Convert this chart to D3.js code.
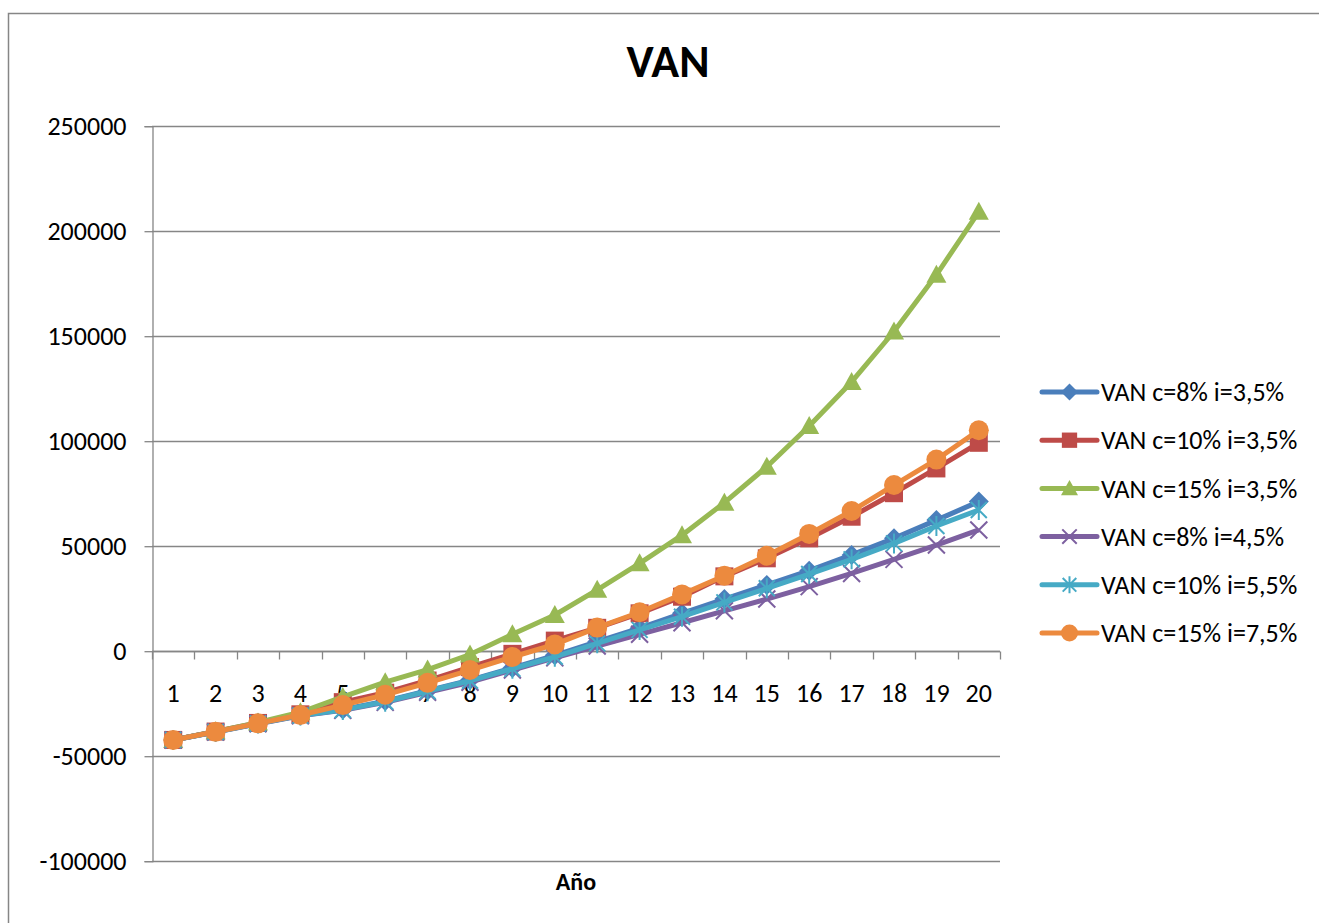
<!DOCTYPE html>
<html>
<head>
<meta charset="utf-8">
<script src="https://d3js.org/d3.v7.min.js"></script>
<style>
  html, body { margin: 0; padding: 0; background: #fff; }
  svg { display: block; }
  text { font-family: Carlito, Calibri, Lato, sans-serif; fill: #000; }
</style>
</head>
<body>
<svg id="chart" width="1319" height="923"></svg>
<script>
const title = "VAN";
const xAxisTitle = "Año";
const years = ["1","2","3","4","5","6","7","8","9","10","11","12","13","14","15","16","17","18","19","20"];
const yTicks = [-100000, -50000, 0, 50000, 100000, 150000, 200000, 250000];
const seriesNames = ["VAN c=8% i=3,5%","VAN c=10% i=3,5%","VAN c=15% i=3,5%","VAN c=8% i=4,5%","VAN c=10% i=5,5%","VAN c=15% i=7,5%"];
const vanC8i35  = [-42500,-38600,-34600,-30800,-28000,-24000,-19000,-14000,-8200,-2200,4300,10700,17800,24600,31300,38100,45600,53500,62200,71000];
const vanC10i35 = [-42500,-38500,-34400,-30300,-24500,-20000,-14200,-7800,-1500,4800,10900,17800,25700,35400,44000,53500,63800,75000,86800,99000];
const vanC15i35 = [-42500,-38400,-34200,-29300,-22000,-15000,-9000,-1800,7800,17000,29000,41600,55000,70500,87600,107000,128000,152000,179000,209000];
const vanC8i45  = [-42500,-38700,-34800,-31000,-28400,-24600,-19800,-15000,-9200,-3400,2200,7800,13300,19000,24600,30500,36800,43500,50300,57500];
const vanC10i55 = [-42500,-38700,-34700,-30900,-28200,-24300,-19300,-14300,-8600,-2900,3500,9900,16200,23000,29700,36500,43500,51100,59400,67000];
const vanC15i75 = [-42500,-38600,-34600,-30600,-25900,-21000,-15300,-9200,-3000,3000,11000,18300,26800,35700,45200,55600,66500,78900,91000,105000];

const seriesValues = [vanC8i35, vanC10i35, vanC15i35, vanC8i45, vanC10i55, vanC15i75];
const colors = ["#4a7ebb", "#be4b48", "#98b954", "#7d60a0", "#46aac5", "#ec8a3e"];
const markerKinds = ["diamond", "square", "triangle", "x", "star", "circle"];

const FS = 26;
const svg = d3.select("#chart");

// outer chart border
svg.append("rect").attr("x", 8.5).attr("y", 13.5).attr("width", 1330).attr("height", 930)
  .attr("fill", "#fff").attr("stroke", "#868686").attr("stroke-width", 1.5);

const plot = { left: 152, right: 1000, top: 125.7, bottom: 860.7 };
const x = d3.scaleBand().domain(years).range([plot.left, plot.right]);
const y = d3.scaleLinear().domain([-100000, 250000]).range([plot.bottom, plot.top]);

// gridlines
svg.append("g").selectAll("line").data(yTicks).join("line")
  .attr("x1", plot.left).attr("x2", plot.right)
  .attr("y1", d => Math.round(y(d)) + 0.5).attr("y2", d => Math.round(y(d)) + 0.5)
  .attr("stroke", "#868686").attr("stroke-width", 1.3);

// y axis
const yAxis = d3.axisLeft(y).tickValues(yTicks).tickSize(8).tickPadding(18).tickFormat(d => String(d));
const yg = svg.append("g").attr("transform", `translate(${plot.left + 0.5},0.5)`).call(yAxis);
yg.select(".domain").attr("stroke", "#868686").attr("stroke-width", 1.3);
yg.selectAll(".tick line").attr("stroke", "#868686").attr("stroke-width", 1.3);
yg.selectAll(".tick text").attr("font-size", FS).attr("font-family", "Carlito, Calibri, Lato, sans-serif").attr("fill", "#000");

// x axis at zero
const y0 = Math.round(y(0)) + 0.5;
const xg = svg.append("g");
xg.append("line").attr("x1", plot.left).attr("x2", plot.right).attr("y1", y0).attr("y2", y0)
  .attr("stroke", "#868686").attr("stroke-width", 1.3);
const boundaries = years.map(d => x(d)).concat([plot.right]);
xg.selectAll("line.tick").data(boundaries).join("line").attr("class", "tick")
  .attr("x1", d => Math.round(d) + 0.5).attr("x2", d => Math.round(d) + 0.5)
  .attr("y1", y0).attr("y2", y0 + 8).attr("stroke", "#868686").attr("stroke-width", 1.3);
xg.selectAll("text").data(years).join("text")
  .attr("x", d => x(d) + x.bandwidth() / 2).attr("y", 702)
  .attr("text-anchor", "middle").attr("font-size", FS).text(d => d);

// title & axis title
svg.append("text").attr("x", 668).attr("y", 77).attr("text-anchor", "middle")
  .attr("font-size", 46).attr("font-weight", "bold").text(title);
svg.append("text").attr("x", (plot.left + plot.right) / 2).attr("y", 890).attr("text-anchor", "middle")
  .attr("font-size", 24).attr("font-weight", "bold").text(xAxisTitle);

// marker drawing
function drawMarker(g, kind, color, s) {
  const h = s / 2;
  if (kind === "diamond") {
    g.append("path").attr("d", `M0,${-h}L${h},0L0,${h}L${-h},0Z`).attr("fill", color);
  } else if (kind === "square") {
    g.append("rect").attr("x", -h * 0.9).attr("y", -h * 0.9).attr("width", s * 0.9).attr("height", s * 0.9).attr("fill", color);
  } else if (kind === "triangle") {
    g.append("path").attr("d", `M0,${-h}L${h},${h * 0.8}L${-h},${h * 0.8}Z`).attr("fill", color);
  } else if (kind === "circle") {
    g.append("circle").attr("r", h).attr("fill", color);
  } else if (kind === "x") {
    const a = h * 0.85;
    g.append("path").attr("d", `M${-a},${-a}L${a},${a}M${-a},${a}L${a},${-a}`)
      .attr("stroke", color).attr("stroke-width", 2).attr("fill", "none");
  } else if (kind === "star") {
    const a = h * 0.8;
    g.append("path").attr("d", `M${-a},${-a}L${a},${a}M${-a},${a}L${a},${-a}M0,${-h}L0,${h}`)
      .attr("stroke", color).attr("stroke-width", 2).attr("fill", "none");
  }
}

const line = d3.line().x((d, i) => x(years[i]) + x.bandwidth() / 2).y(d => y(d));

seriesValues.forEach((vals, si) => {
  const g = svg.append("g");
  g.append("path").datum(vals).attr("d", line).attr("fill", "none")
    .attr("stroke", colors[si]).attr("stroke-width", 5).attr("stroke-linejoin", "round");
  vals.forEach((v, i) => {
    const mg = g.append("g").attr("transform", `translate(${x(years[i]) + x.bandwidth() / 2},${y(v)})`);
    drawMarker(mg, markerKinds[si], colors[si], 20);
  });
});

// legend
const legendY0 = 392, legendStep = 48.2;
seriesNames.forEach((name, si) => {
  const ly = legendY0 + si * legendStep;
  const g = svg.append("g");
  g.append("line").attr("x1", 1042).attr("x2", 1097).attr("y1", ly).attr("y2", ly)
    .attr("stroke", colors[si]).attr("stroke-width", 5).attr("stroke-linecap", "round");
  const mg = g.append("g").attr("transform", `translate(1069.5,${ly})`);
  drawMarker(mg, markerKinds[si], colors[si], 17);
  g.append("text").attr("x", 1101).attr("y", ly).attr("dy", "0.35em").attr("font-size", FS).text(name);
});
</script>
</body>
</html>
